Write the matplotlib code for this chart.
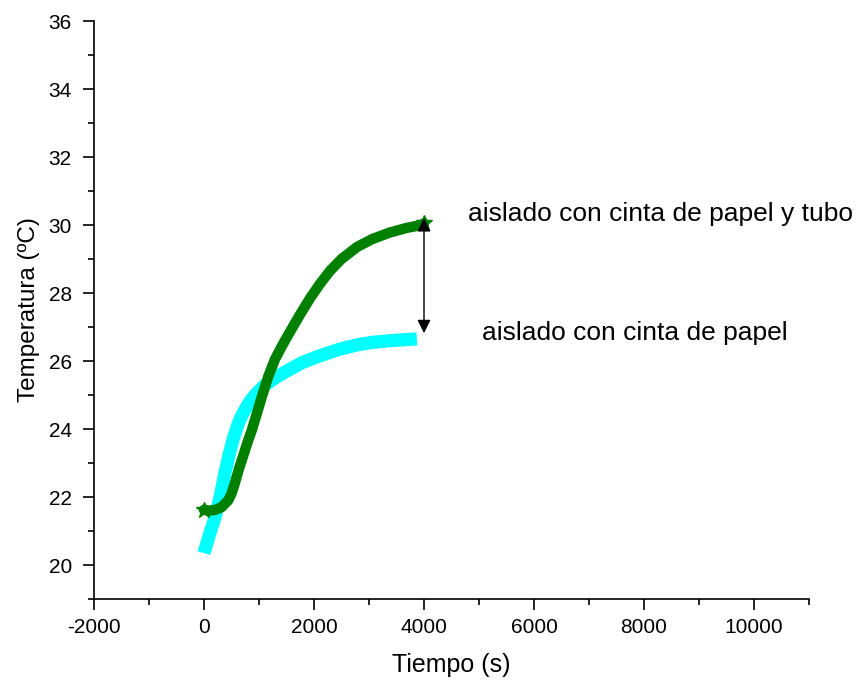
import numpy as np
import matplotlib.pyplot as plt
from matplotlib.ticker import MultipleLocator

plt.rcParams['font.family'] = ['Liberation Sans', 'DejaVu Sans']
plt.rcParams['axes.unicode_minus'] = False

# aislado con cinta de papel (cyan)
t_papel = [0, 100, 200, 300, 380, 450, 530, 620, 710, 830, 960, 1100, 1290,
           1500, 1780, 2100, 2470, 2800, 3070, 3400, 3870]
temp_papel = [20.35, 20.9, 21.4, 22.05, 22.7, 23.2, 23.7, 24.15, 24.47, 24.8,
              25.06, 25.28, 25.5, 25.7, 25.95, 26.15, 26.35, 26.48, 26.55,
              26.6, 26.65]

# aislado con cinta de papel y tubo (green)
t_tubo = [0, 100, 200, 320, 440, 500, 560, 630, 710, 790, 870, 960, 1050,
          1170, 1290, 1420, 1560, 1740, 1930, 2100, 2290, 2500, 2780, 3050,
          3380, 3700, 3960, 4000]
temp_tubo = [21.62, 21.6, 21.62, 21.7, 21.9, 22.1, 22.4, 22.8, 23.2, 23.6,
             23.97, 24.45, 24.94, 25.55, 26.05, 26.45, 26.85, 27.35, 27.85,
             28.25, 28.65, 29.0, 29.35, 29.58, 29.78, 29.92, 30.0, 30.05]

xticks = [-2000, 0, 2000, 4000, 6000, 8000, 10000]
yticks = [20, 22, 24, 26, 28, 30, 32, 34, 36]

fig = plt.figure(figsize=(8.6, 6.82), dpi=100)
ax = fig.add_axes([0.1093, 0.1217, 0.8314, 0.8475])

ax.plot(t_papel, temp_papel, color='#00FFFF', lw=9.5, solid_capstyle='butt',
        solid_joinstyle='round')
ax.plot(t_tubo, temp_tubo, color='#008000', lw=7.5, solid_capstyle='round',
        solid_joinstyle='round',
        marker='*', markevery=[0, len(t_tubo) - 1], markersize=12,
        markeredgecolor='#008000')

ax.annotate('', xy=(4000, 26.82), xytext=(4000, 30.2),
            arrowprops=dict(arrowstyle='<|-|>', color='black', lw=1.0,
                            mutation_scale=20, shrinkA=0, shrinkB=0))

ax.text(4800, 30.32, 'aislado con cinta de papel y tubo', fontsize=19, va='center')
ax.text(5055, 26.82, 'aislado con cinta de papel', fontsize=19, va='center')

ax.set_xlim(-2000, 11000)
ax.set_ylim(19, 36)
ax.set_xticks(xticks)
ax.set_yticks(yticks)
ax.xaxis.set_minor_locator(MultipleLocator(1000))
ax.yaxis.set_minor_locator(MultipleLocator(1))

for s in ['top', 'right']:
    ax.spines[s].set_visible(False)
for s in ['left', 'bottom']:
    ax.spines[s].set_linewidth(1.2)

ax.tick_params(axis='both', which='major', direction='out', length=8, width=1.2)
ax.tick_params(axis='both', which='minor', direction='out', length=4.5, width=1.2)
ax.tick_params(axis='x', labelsize=15, pad=6)
ax.tick_params(axis='y', labelsize=15, pad=8)

ax.set_xlabel('Tiempo (s)', fontsize=18, labelpad=11)
ax.set_ylabel('Temperatura (ºC)', fontsize=17.5, labelpad=6)

fig.savefig('out.png', dpi=100)
